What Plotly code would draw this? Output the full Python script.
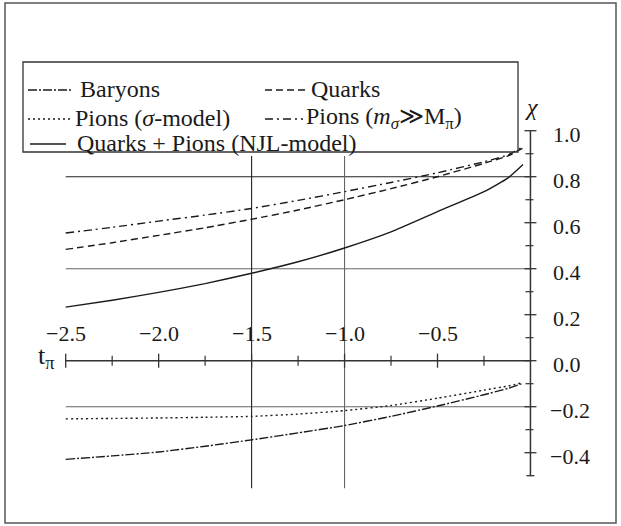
import plotly.graph_objects as go

# ---- data -------------------------------------------------------------
t_pi = [-2.5, -2.25, -2.0, -1.75, -1.5, -1.25, -1.0, -0.75, -0.5, -0.25, -0.12, -0.04]

baryons = [-0.429, -0.414, -0.397, -0.372, -0.344, -0.314, -0.282, -0.242, -0.197, -0.148, -0.120, -0.098]
quarks = [0.484, 0.513, 0.545, 0.578, 0.615, 0.655, 0.700, 0.748, 0.800, 0.858, 0.891, 0.925]
pions_sigma = [-0.253, -0.251, -0.249, -0.246, -0.242, -0.232, -0.217, -0.195, -0.163, -0.128, -0.110, -0.095]
pions_heavy = [0.555, 0.580, 0.607, 0.633, 0.662, 0.697, 0.735, 0.775, 0.817, 0.865, 0.895, 0.930]
quarks_pions_njl = [0.233, 0.263, 0.297, 0.335, 0.380, 0.430, 0.490, 0.560, 0.648, 0.735, 0.795, 0.853]

series_names = [
    "Baryons",
    "Quarks",
    "Pions (<i>\u03c3</i>-model)",
    "Pions (<i>m</i><sub><i>\u03c3</i></sub>\u226bM<sub>\u03c0</sub>)",
    "Quarks + Pions (NJL-model)",
]

x_major = [-2.5, -2.0, -1.5, -1.0, -0.5]
x_major_labels = ["\u22122.5", "\u22122.0", "\u22121.5", "\u22121.0", "\u22120.5"]
x_minor = [-2.25, -1.75, -1.25, -0.75, -0.25]

y_major = [1.0, 0.8, 0.6, 0.4, 0.2, 0.0, -0.2, -0.4]
y_major_labels = ["1.0", "0.8", "0.6", "0.4", "0.2", "0.0", "\u22120.2", "\u22120.4"]
y_minor = [0.9, 0.7, 0.5, 0.3, 0.1, -0.1, -0.3]

h_grid = [0.8, 0.4, -0.2]
v_grid = [-1.5, -1.0]

# ---- geometry ---------------------------------------------------------
W, H = 621, 526
X_RANGE = [-2.8534, 0.4871]
Y_RANGE = [-0.7187, 1.5683]
PX_X = W / (X_RANGE[1] - X_RANGE[0])   # pixels per unit of t
PX_Y = H / (Y_RANGE[1] - Y_RANGE[0])   # pixels per unit of chi

FONT = "Liberation Serif"
INK = "#1a1a1a"

dashes = ["9px,2px,2px,2px", "7px,4px", "2px,3px", "8px,4px,2px,4px", "solid"]
values = [baryons, quarks, pions_sigma, pions_heavy, quarks_pions_njl]

fig = go.Figure()
for name, vals, dash in zip(series_names, values, dashes):
    fig.add_trace(go.Scatter(
        x=t_pi, y=vals, mode="lines", name=name, showlegend=False,
        line=dict(color=INK, width=1.4, dash=dash, shape="spline", smoothing=0.5),
        hoverinfo="skip",
    ))

shapes = []
annotations = []


def seg(x0, y0, x1, y1, color=INK, width=1.2):
    shapes.append(dict(type="line", xref="x", yref="y", x0=x0, y0=y0, x1=x1, y1=y1,
                       line=dict(color=color, width=width), layer="below"))


# grid lines
for i, g in enumerate(h_grid):
    seg(-2.5, g, 0.0, g, color="#222" if i == 0 else "#666", width=1.1)
for i, g in enumerate(v_grid):
    seg(g, -0.555, g, 0.89, color="#222" if i == 0 else "#666", width=1.1)

# axes
seg(-2.5, 0.0, 0.0, 0.0, color="#333", width=1.5)
seg(0.0, -0.5, 0.0, 1.0, color="#333", width=1.5)

# x ticks (crossing the axis)
for xv in x_major:
    seg(xv, -7 / PX_Y, xv, 7 / PX_Y, color="#333", width=1.3)
for xv in x_minor:
    seg(xv, -5 / PX_Y, xv, 5 / PX_Y, color="#333", width=1.2)
# y ticks
for yv in y_major:
    seg(-6 / PX_X, yv, 6 / PX_X, yv, color="#333", width=1.3)
for yv in y_minor:
    seg(-5 / PX_X, yv, 3 / PX_X, yv, color="#333", width=1.2)
seg(-4 / PX_X, -0.5, 4 / PX_X, -0.5, color="#333", width=1.3)

# tick labels
for xv, lab in zip(x_major, x_major_labels):
    annotations.append(dict(x=xv, y=0.118, xref="x", yref="y", text=lab, showarrow=False,
                            xanchor="center", yanchor="middle",
                            font=dict(family=FONT, size=22, color=INK)))
for yv, lab in zip(y_major, y_major_labels):
    annotations.append(dict(x=(18 if lab.startswith("\u2212") else 20.5) / PX_X, y=yv,
                            xref="x", yref="y", text=lab, showarrow=False,
                            xanchor="left", yanchor="middle", yshift=-4,
                            font=dict(family=FONT, size=22, color=INK)))

# axis titles
annotations.append(dict(x=0.008, y=1.103, xref="x", yref="y", text="<i>\u03c7</i>",
                        showarrow=False, xanchor="center", yanchor="middle",
                        font=dict(family=FONT, size=24, color=INK)))
annotations.append(dict(x=-2.5 - 10 / PX_X, y=0.0, xref="x", yref="y",
                        text="t<sub>\u03c0</sub>", showarrow=False,
                        xanchor="right", yanchor="middle", yshift=4,
                        font=dict(family=FONT, size=26, color=INK)))

# legend: sample line + label for each series, in two columns
legend_slots = [  # (sample x0, sample x1, text x, row centre y) in pixels
    (28, 72, 78, 89),
    (265, 305, 309, 89),
    (28, 70, 73, 118),
    (265, 303, 304, 118),
    (30, 66, 75, 143),
]
for (sx0, sx1, tx, ry), name, dash in zip(legend_slots, series_names, dashes):
    shapes.append(dict(type="line", xref="paper", yref="paper",
                       x0=sx0 / W, x1=sx1 / W, y0=1 - (ry + 1) / H, y1=1 - (ry + 1) / H,
                       line=dict(color=INK, width=1.3, dash=dash)))
    annotations.append(dict(x=tx / W, y=1 - ry / H, xref="paper", yref="paper", text=name,
                            showarrow=False, xanchor="left", yanchor="middle",
                            font=dict(family=FONT, size=24, color=INK)))

# legend frame and outer frame
shapes.append(dict(type="rect", xref="paper", yref="paper",
                   x0=23 / W, x1=518 / W, y0=1 - 152 / H, y1=1 - 62 / H,
                   line=dict(color="#333", width=1.3)))
shapes.append(dict(type="rect", xref="paper", yref="paper",
                   x0=5 / W, x1=616 / W, y0=1 - 523 / H, y1=1 - 3 / H,
                   line=dict(color="#555", width=1.5)))

fig.update_layout(
    width=W, height=H,
    margin=dict(l=0, r=0, t=0, b=0),
    paper_bgcolor="white", plot_bgcolor="white",
    xaxis=dict(range=X_RANGE, visible=False, fixedrange=True),
    yaxis=dict(range=Y_RANGE, visible=False, fixedrange=True),
    shapes=shapes, annotations=annotations,
    showlegend=False,
)

fig.write_html("out.html")
